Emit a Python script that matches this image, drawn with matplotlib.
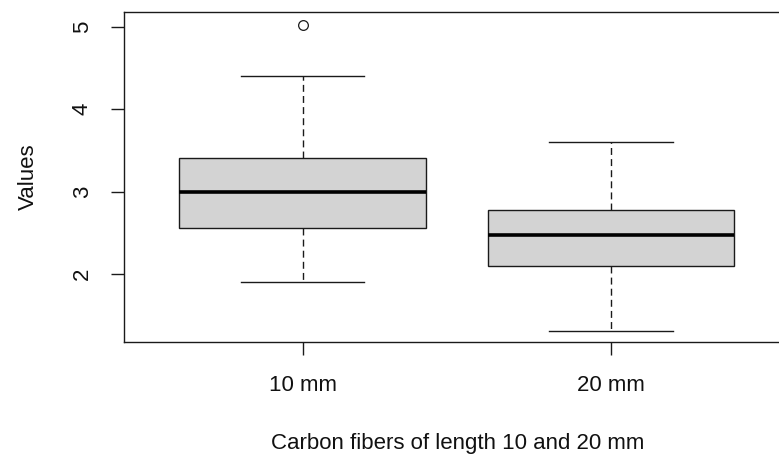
import matplotlib
matplotlib.use("Agg")
import matplotlib.pyplot as plt

categories = ["10 mm", "20 mm"]
whisker_low = [1.90, 1.31]
q1 = [2.56, 2.10]
median = [3.00, 2.47]
q3 = [3.41, 2.77]
whisker_high = [4.40, 3.60]
outliers = [[5.02], []]
y_ticks = [2, 3, 4, 5]

plt.rcParams['font.family'] = ['Liberation Sans', 'DejaVu Sans']

W, H = 779, 454
fig = plt.figure(figsize=(W / 100, H / 100), dpi=100)
left, right, bottom, top = 124, 789.6, 342.3, 12.3
ax = fig.add_axes([left / W, (H - bottom) / H, (right - left) / W, (bottom - top) / H])

stats = []
for i, lab in enumerate(categories):
    stats.append(dict(label=lab, whislo=whisker_low[i], q1=q1[i], med=median[i],
                      q3=q3[i], whishi=whisker_high[i], fliers=outliers[i]))

lc = '#1a1a1a'
lw = 1.0
ax.bxp(stats, positions=[1, 2], widths=0.8, patch_artist=True, showfliers=True,
       boxprops=dict(facecolor='#d3d3d3', edgecolor=lc, linewidth=lw),
       medianprops=dict(color='black', linewidth=2.6, solid_capstyle='butt'),
       whiskerprops=dict(color=lc, linewidth=lw, linestyle=(0, (5, 3))),
       capprops=dict(color=lc, linewidth=lw),
       capwidths=0.4,
       flierprops=dict(marker='o', markersize=7, markerfacecolor='white',
                       markeredgecolor=lc, markeredgewidth=0.9))

ax.set_xlim(0.42, 2.58)
ax.set_ylim(1.17, 5.175)
ax.set_yticks(y_ticks)
ax.set_yticklabels([str(t) for t in y_ticks], rotation=90, va='center')
ax.set_xticks([1, 2])
ax.set_xticklabels(categories)

for s in ax.spines.values():
    s.set_color(lc)
    s.set_linewidth(lw)

fs = 16
ax.tick_params(axis='both', length=9.5, width=lw, color=lc, labelsize=fs, labelcolor='#111111')
ax.tick_params(axis='y', pad=13)
ax.tick_params(axis='x', pad=14)

ax.set_xlabel("Carbon fibers of length 10 and 20 mm", fontsize=fs, color='#111111', va='center')
ax.set_ylabel("Values", fontsize=fs, color='#111111', va='center')
ax.xaxis.set_label_coords((457.5 - left) / (right - left), (bottom - 443.5) / (bottom - top))
ax.yaxis.set_label_coords((28 - left) / (right - left), (bottom - 176.7) / (bottom - top))

fig.savefig("out.png", dpi=100)
